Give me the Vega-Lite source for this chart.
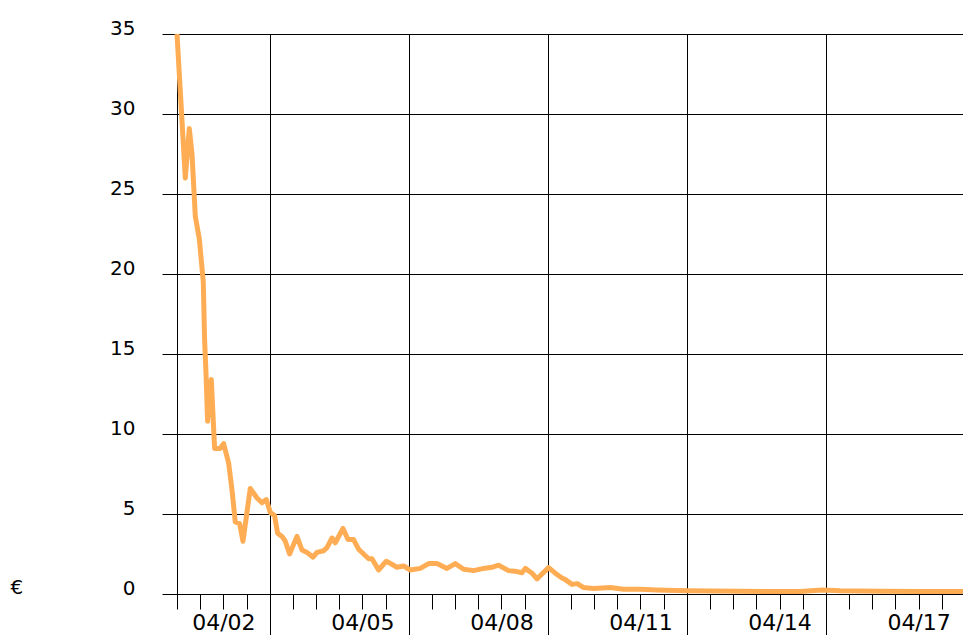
{
  "$schema": "https://vega.github.io/schema/vega-lite/v6.json",
  "width": 786,
  "height": 560,
  "autosize": "none",
  "padding": {"left": 177, "top": 34, "right": 0, "bottom": 41},
  "background": "white",
  "config": {
    "view": {"stroke": null},
    "axis": {
      "labelFont": "DejaVu Sans",
      "titleFont": "DejaVu Sans",
      "labelColor": "black",
      "titleColor": "black",
      "domainColor": "black",
      "tickColor": "black",
      "gridColor": "black",
      "gridOpacity": 1
    }
  },
  "data": {
    "values": [
      {"time": "2020-04-01T00:00", "price": 35.0},
      {"time": "2020-04-01T04:18", "price": 26.0},
      {"time": "2020-04-01T06:22", "price": 29.1},
      {"time": "2020-04-01T07:46", "price": 27.5},
      {"time": "2020-04-01T09:29", "price": 23.6},
      {"time": "2020-04-01T11:33", "price": 22.2},
      {"time": "2020-04-01T13:37", "price": 19.5},
      {"time": "2020-04-01T14:17", "price": 15.9},
      {"time": "2020-04-01T15:01", "price": 13.8},
      {"time": "2020-04-01T15:50", "price": 10.8},
      {"time": "2020-04-01T17:46", "price": 13.4},
      {"time": "2020-04-01T19:28", "price": 9.1},
      {"time": "2020-04-01T22:25", "price": 9.1},
      {"time": "2020-04-02T00:08", "price": 9.4},
      {"time": "2020-04-02T02:43", "price": 8.2},
      {"time": "2020-04-02T04:29", "price": 6.5},
      {"time": "2020-04-02T06:11", "price": 4.5},
      {"time": "2020-04-02T08:25", "price": 4.4},
      {"time": "2020-04-02T10:10", "price": 3.3},
      {"time": "2020-04-02T13:57", "price": 6.6},
      {"time": "2020-04-02T17:25", "price": 6.0},
      {"time": "2020-04-02T20:01", "price": 5.7},
      {"time": "2020-04-02T22:14", "price": 5.9},
      {"time": "2020-04-03T00:19", "price": 5.1},
      {"time": "2020-04-03T02:32", "price": 4.9},
      {"time": "2020-04-03T04:05", "price": 3.8},
      {"time": "2020-04-03T06:22", "price": 3.6},
      {"time": "2020-04-03T08:05", "price": 3.3},
      {"time": "2020-04-03T10:18", "price": 2.5},
      {"time": "2020-04-03T14:08", "price": 3.6},
      {"time": "2020-04-03T16:43", "price": 2.75},
      {"time": "2020-04-03T19:19", "price": 2.6},
      {"time": "2020-04-03T22:25", "price": 2.3},
      {"time": "2020-04-04T00:29", "price": 2.6},
      {"time": "2020-04-04T03:55", "price": 2.7},
      {"time": "2020-04-04T05:40", "price": 2.9},
      {"time": "2020-04-04T08:16", "price": 3.5},
      {"time": "2020-04-04T09:58", "price": 3.2},
      {"time": "2020-04-04T13:57", "price": 4.1},
      {"time": "2020-04-04T16:32", "price": 3.4},
      {"time": "2020-04-04T19:26", "price": 3.4},
      {"time": "2020-04-04T22:02", "price": 2.8},
      {"time": "2020-04-05T03:13", "price": 2.2},
      {"time": "2020-04-05T04:58", "price": 2.2},
      {"time": "2020-04-05T08:23", "price": 1.5},
      {"time": "2020-04-05T12:22", "price": 2.05},
      {"time": "2020-04-05T17:55", "price": 1.67},
      {"time": "2020-04-05T21:20", "price": 1.75},
      {"time": "2020-04-06T00:48", "price": 1.5},
      {"time": "2020-04-06T05:59", "price": 1.6},
      {"time": "2020-04-06T10:17", "price": 1.9},
      {"time": "2020-04-06T14:37", "price": 1.9},
      {"time": "2020-04-06T19:48", "price": 1.6},
      {"time": "2020-04-07T00:06", "price": 1.9},
      {"time": "2020-04-07T04:24", "price": 1.55},
      {"time": "2020-04-07T09:35", "price": 1.46},
      {"time": "2020-04-07T14:45", "price": 1.6},
      {"time": "2020-04-07T19:06", "price": 1.67},
      {"time": "2020-04-07T22:31", "price": 1.8},
      {"time": "2020-04-08T03:42", "price": 1.46},
      {"time": "2020-04-08T08:03", "price": 1.4},
      {"time": "2020-04-08T10:38", "price": 1.33},
      {"time": "2020-04-08T12:21", "price": 1.6},
      {"time": "2020-04-08T15:49", "price": 1.3},
      {"time": "2020-04-08T18:24", "price": 0.94},
      {"time": "2020-04-08T20:59", "price": 1.25},
      {"time": "2020-04-09T00:25", "price": 1.65},
      {"time": "2020-04-09T03:53", "price": 1.3},
      {"time": "2020-04-09T07:21", "price": 1.0},
      {"time": "2020-04-09T09:04", "price": 0.9},
      {"time": "2020-04-09T12:32", "price": 0.6},
      {"time": "2020-04-09T15:16", "price": 0.65},
      {"time": "2020-04-09T18:32", "price": 0.4},
      {"time": "2020-04-09T23:43", "price": 0.35},
      {"time": "2020-04-10T08:22", "price": 0.4},
      {"time": "2020-04-10T15:14", "price": 0.3},
      {"time": "2020-04-10T23:53", "price": 0.3},
      {"time": "2020-04-11T08:32", "price": 0.25},
      {"time": "2020-04-12T00:04", "price": 0.2},
      {"time": "2020-04-13T03:40", "price": 0.17},
      {"time": "2020-04-14T10:44", "price": 0.15},
      {"time": "2020-04-14T22:08", "price": 0.25},
      {"time": "2020-04-15T07:27", "price": 0.2},
      {"time": "2020-04-16T04:10", "price": 0.17},
      {"time": "2020-04-17T00:52", "price": 0.15},
      {"time": "2020-04-17T23:00", "price": 0.15}
    ]
  },
  "layer": [
    {
      "mark": {"type": "line", "opacity": 0},
      "encoding": {
        "x": {
          "field": "time",
          "type": "temporal",
          "scale": {"domain": [{"year": 2020, "month": 4, "date": 1}, {"year": 2020, "month": 4, "date": 17, "hours": 23}]},
          "axis": {
            "orient": "bottom",
            "title": null,
            "values": [
              {"year": 2020, "month": 4, "date": 3},
              {"year": 2020, "month": 4, "date": 6},
              {"year": 2020, "month": 4, "date": 9},
              {"year": 2020, "month": 4, "date": 12},
              {"year": 2020, "month": 4, "date": 15}
            ],
            "grid": true,
            "gridWidth": 1,
            "tickSize": 41,
            "tickWidth": 1,
            "labels": false,
            "domain": false
          }
        },
        "y": {"field": "price", "type": "quantitative"}
      }
    },
    {
      "mark": {"type": "line", "color": "#FFAD55", "strokeWidth": 5, "strokeJoin": "round"},
      "encoding": {
        "x": {
          "field": "time",
          "type": "temporal",
          "axis": {
            "orient": "bottom",
            "title": null,
            "values": [
              {"year": 2020, "month": 4, "date": 1, "hours": 0}, {"year": 2020, "month": 4, "date": 1, "hours": 12},
              {"year": 2020, "month": 4, "date": 2, "hours": 0}, {"year": 2020, "month": 4, "date": 2, "hours": 12},
              {"year": 2020, "month": 4, "date": 3, "hours": 0}, {"year": 2020, "month": 4, "date": 3, "hours": 12},
              {"year": 2020, "month": 4, "date": 4, "hours": 0}, {"year": 2020, "month": 4, "date": 4, "hours": 12},
              {"year": 2020, "month": 4, "date": 5, "hours": 0}, {"year": 2020, "month": 4, "date": 5, "hours": 12},
              {"year": 2020, "month": 4, "date": 6, "hours": 0}, {"year": 2020, "month": 4, "date": 6, "hours": 12},
              {"year": 2020, "month": 4, "date": 7, "hours": 0}, {"year": 2020, "month": 4, "date": 7, "hours": 12},
              {"year": 2020, "month": 4, "date": 8, "hours": 0}, {"year": 2020, "month": 4, "date": 8, "hours": 12},
              {"year": 2020, "month": 4, "date": 9, "hours": 0}, {"year": 2020, "month": 4, "date": 9, "hours": 12},
              {"year": 2020, "month": 4, "date": 10, "hours": 0}, {"year": 2020, "month": 4, "date": 10, "hours": 12},
              {"year": 2020, "month": 4, "date": 11, "hours": 0}, {"year": 2020, "month": 4, "date": 11, "hours": 12},
              {"year": 2020, "month": 4, "date": 12, "hours": 0}, {"year": 2020, "month": 4, "date": 12, "hours": 12},
              {"year": 2020, "month": 4, "date": 13, "hours": 0}, {"year": 2020, "month": 4, "date": 13, "hours": 12},
              {"year": 2020, "month": 4, "date": 14, "hours": 0}, {"year": 2020, "month": 4, "date": 14, "hours": 12},
              {"year": 2020, "month": 4, "date": 15, "hours": 0}, {"year": 2020, "month": 4, "date": 15, "hours": 12},
              {"year": 2020, "month": 4, "date": 16, "hours": 0}, {"year": 2020, "month": 4, "date": 16, "hours": 12},
              {"year": 2020, "month": 4, "date": 17, "hours": 0}, {"year": 2020, "month": 4, "date": 17, "hours": 12}
            ],
            "grid": false,
            "tickSize": 15,
            "tickWidth": 1,
            "domain": true,
            "domainWidth": 1,
            "labelExpr": "hours(datum.value) == 0 && (date(datum.value) + 1) % 3 == 0 ? timeFormat(datum.value, '%m/%d') : ''",
            "labelOverlap": false,
            "labelFlush": false,
            "labelFontSize": 22,
            "labelPadding": 20,
            "labelBaseline": "alphabetic",
            "labelAlign": "center"
          }
        },
        "y": {
          "field": "price",
          "type": "quantitative",
          "scale": {"domain": [0, 35], "nice": false, "zero": true},
          "axis": {
            "values": [0, 5, 10, 15, 20, 25, 30, 35],
            "grid": true,
            "gridWidth": 1,
            "tickSize": 15,
            "tickWidth": 1,
            "domain": true,
            "domainWidth": 1,
            "labelFontSize": 20,
            "labelPadding": 27,
            "labelBaseline": "alphabetic",
            "labelFlush": false,
            "title": "€",
            "titleAngle": 0,
            "titleFontSize": 20,
            "titleFontWeight": "normal",
            "titleAlign": "left",
            "titleBaseline": "alphabetic",
            "titleX": -167,
            "titleY": 559
          }
        }
      }
    }
  ],
  "resolve": {"axis": {"x": "independent"}}
}
